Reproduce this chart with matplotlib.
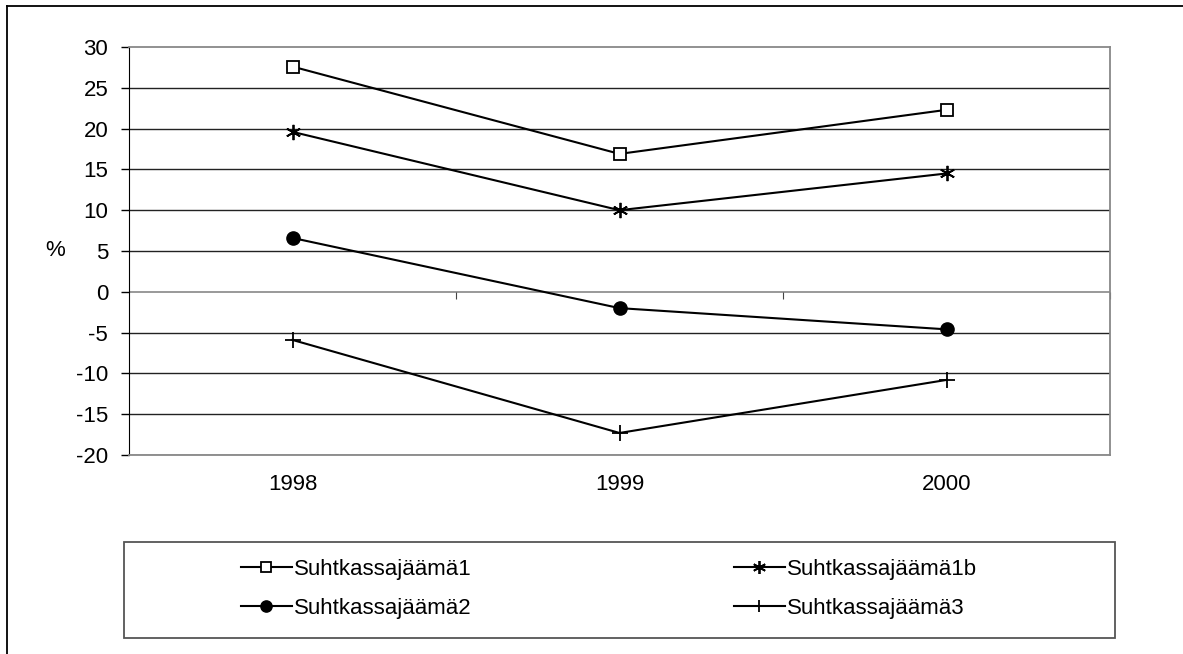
import matplotlib
matplotlib.use("Agg")
import matplotlib.pyplot as plt
from matplotlib.lines import Line2D
from matplotlib.patches import Rectangle

plt.rcParams['font.family'] = ['Liberation Sans', 'DejaVu Sans']
plt.rcParams['axes.unicode_minus'] = False

# data
years = ['1998', '1999', '2000']
suht1 = [27.6, 16.9, 22.3]
suht1b = [19.6, 10.0, 14.5]
suht2 = [6.6, -2.0, -4.6]
suht3 = [-5.9, -17.3, -10.8]
names = ['Suhtkassajäämä1', 'Suhtkassajäämä1b', 'Suhtkassajäämä2', 'Suhtkassajäämä3']
yticks = [30, 25, 20, 15, 10, 5, 0, -5, -10, -15, -20]

fig = plt.figure(figsize=(11.83, 6.54), dpi=100)
ax = fig.add_axes([129/1183, 1-455/654, 981/1183, 408/654])

x = list(range(len(years)))
l1, = ax.plot(x, suht1, color='black', lw=1.5, marker='s', ms=8.5, mfc='white', mec='black', mew=1.3)
l2, = ax.plot(x, suht1b, color='black', lw=1.5, marker=(6, 2, 0), ms=11, mew=1.3)
l3, = ax.plot(x, suht2, color='black', lw=1.5, marker='o', ms=9.5)
l4, = ax.plot(x, suht3, color='black', lw=1.5, marker='+', ms=11, mew=1.3)

ax.set_xlim(-0.5, 2.5)
ax.set_ylim(-20, 30)
ax.set_yticks(yticks)
ax.tick_params(axis='y', direction='out', length=6, width=1, labelsize=16, pad=9)
for y in yticks:
    if y != 0 and y != 30:
        ax.axhline(y, color='#222222', lw=1, zorder=0)
ax.axhline(0, color='#888888', lw=1.2, zorder=0)

ax.set_xticks(x)
ax.set_xticklabels(years)
ax.tick_params(axis='x', length=0, labelsize=16, pad=14)

ax.spines['left'].set_color('black')
for s in ['top', 'right', 'bottom']:
    ax.spines[s].set_color('#888888')
    ax.spines[s].set_linewidth(1.3)

# category boundary ticks on the zero line
sec = ax.secondary_xaxis(0.4)
sec.set_xticks([0.5, 1.5, 2.5])
sec.set_xticklabels([])
sec.tick_params(direction='out', length=5, color='#444444')
sec.spines['bottom'].set_visible(False)

ax.set_ylabel('%', rotation=0, fontsize=16, va='center')
ax.yaxis.set_label_coords(-0.075, 0.502)

# legend
fig.patches.append(Rectangle((124/1183, 1-638/654), 991/1183, 96/654,
                             transform=fig.transFigure, fill=False,
                             edgecolor='#555555', lw=1.3))
fig.legend([l1, l3, l2, l4], [names[0], names[2], names[1], names[3]],
           loc='center', ncol=2,
           bbox_to_anchor=(609/1183, 1-589/654),
           frameon=False, fontsize=16, handlelength=2.3, handletextpad=0.1,
           columnspacing=11.8, labelspacing=0.8, markerscale=0.85)

# outer frame
fig.add_artist(Line2D([7/1183, 7/1183], [0, 1-6/654], transform=fig.transFigure, color='black', lw=1.3))
fig.add_artist(Line2D([7/1183, 1], [1-6/654, 1-6/654], transform=fig.transFigure, color='black', lw=1.3))

fig.savefig('out.png', dpi=100)
